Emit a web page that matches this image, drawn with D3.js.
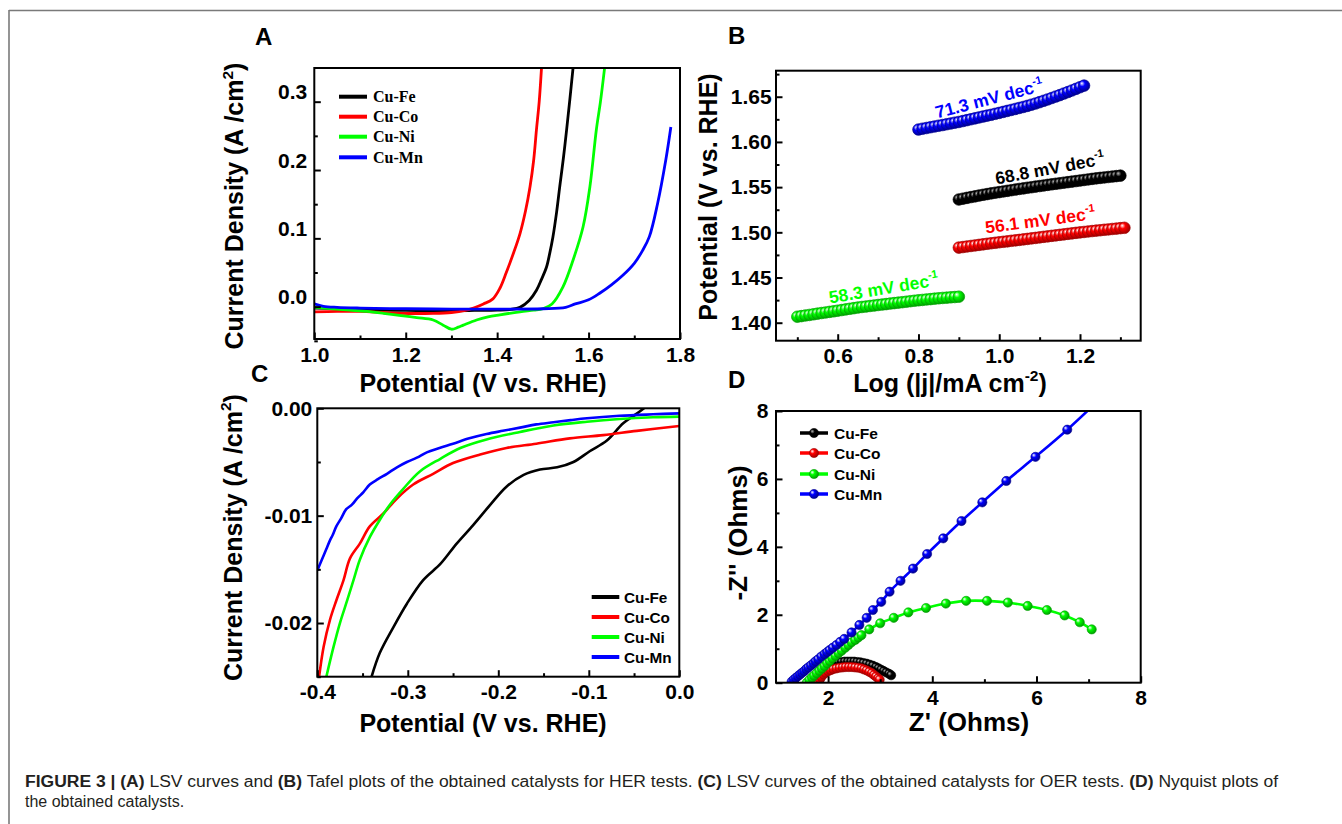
<!DOCTYPE html>
<html><head><meta charset="utf-8">
<script src="https://cdn.jsdelivr.net/npm/d3@7"></script>
<style>
body{margin:0;background:#fff;}
svg{display:block;}
</style></head><body>
<svg id="fig" width="1342" height="824"></svg>
<script>
// ---------------- DATA ----------------
const seriesNames = ["Cu-Fe","Cu-Co","Cu-Ni","Cu-Mn"];

// Panel A : LSV (V vs RHE, A/cm2)
const lsvFe = [[1.00,-0.002],[1.05,-0.003],[1.10,-0.004],[1.15,-0.005],[1.20,-0.0055],[1.25,-0.006],[1.30,-0.006],[1.35,-0.0055],[1.40,-0.005],[1.43,-0.004],[1.45,-0.001],[1.47,0.009],[1.486,0.024],[1.497,0.040],[1.508,0.058],[1.515,0.078],[1.522,0.102],[1.530,0.138],[1.537,0.176],[1.545,0.218],[1.552,0.259],[1.559,0.303],[1.566,0.349]];
const lsvCo = [[1.00,-0.0075],[1.05,-0.0070],[1.10,-0.0070],[1.15,-0.0085],[1.19,-0.0097],[1.26,-0.0097],[1.30,-0.0085],[1.33,-0.0055],[1.35,-0.0015],[1.37,0.004],[1.39,0.011],[1.406,0.027],[1.42,0.050],[1.435,0.077],[1.45,0.107],[1.462,0.140],[1.472,0.176],[1.480,0.215],[1.486,0.259],[1.492,0.300],[1.497,0.349]];
const lsvNi = [[1.00,-0.001],[1.04,-0.003],[1.078,-0.005],[1.115,-0.007],[1.151,-0.0097],[1.19,-0.013],[1.224,-0.016],[1.26,-0.0195],[1.282,-0.027],[1.300,-0.033],[1.315,-0.030],[1.326,-0.027],[1.355,-0.0195],[1.38,-0.015],[1.406,-0.012],[1.45,-0.0075],[1.48,-0.005],[1.50,-0.003],[1.52,0.004],[1.544,0.029],[1.566,0.068],[1.588,0.117],[1.603,0.176],[1.617,0.259],[1.626,0.300],[1.635,0.349]];
const lsvMn = [[1.00,0.004],[1.02,0.0005],[1.05,-0.001],[1.10,-0.002],[1.20,-0.003],[1.30,-0.0035],[1.40,-0.0035],[1.50,-0.003],[1.55,-0.001],[1.571,0.004],[1.60,0.010],[1.625,0.020],[1.65,0.032],[1.675,0.046],[1.70,0.0635],[1.718,0.082],[1.733,0.1025],[1.751,0.151],[1.769,0.215],[1.78,0.263]];

// Panel B : Tafel (log|j|, V)
const tafelFe = [[0.90,1.5363],[0.91,1.5372],[0.92,1.5381],[0.93,1.5390],[0.94,1.5398],[0.95,1.5407],[0.96,1.5415],[0.97,1.5423],[0.98,1.5431],[0.99,1.5438],[1.00,1.5445],[1.01,1.5452],[1.02,1.5459],[1.03,1.5466],[1.04,1.5473],[1.05,1.5480],[1.06,1.5486],[1.07,1.5493],[1.08,1.5499],[1.09,1.5506],[1.10,1.5512],[1.11,1.5518],[1.12,1.5525],[1.13,1.5531],[1.14,1.5537],[1.15,1.5543],[1.16,1.5549],[1.17,1.5555],[1.18,1.5561],[1.19,1.5567],[1.20,1.5573],[1.21,1.5579],[1.22,1.5585],[1.23,1.5591],[1.24,1.5597],[1.25,1.5602],[1.26,1.5607],[1.27,1.5612],[1.28,1.5617],[1.29,1.5622],[1.30,1.5627]];
const tafelCo = [[0.90,1.4831],[0.91,1.4837],[0.92,1.4843],[0.93,1.4849],[0.94,1.4855],[0.95,1.4861],[0.96,1.4867],[0.97,1.4873],[0.98,1.4879],[0.99,1.4884],[1.00,1.4890],[1.01,1.4895],[1.02,1.4900],[1.03,1.4906],[1.04,1.4911],[1.05,1.4916],[1.06,1.4922],[1.07,1.4927],[1.08,1.4933],[1.09,1.4938],[1.10,1.4944],[1.11,1.4950],[1.12,1.4955],[1.13,1.4961],[1.14,1.4966],[1.15,1.4972],[1.16,1.4977],[1.17,1.4983],[1.18,1.4988],[1.19,1.4994],[1.20,1.4999],[1.21,1.5004],[1.22,1.5009],[1.23,1.5014],[1.24,1.5019],[1.25,1.5023],[1.26,1.5028],[1.27,1.5032],[1.28,1.5037],[1.29,1.5041],[1.30,1.5046],[1.31,1.5050]];
const tafelNi = [[0.50,1.4066],[0.51,1.4073],[0.52,1.4080],[0.53,1.4086],[0.54,1.4093],[0.55,1.4100],[0.56,1.4107],[0.57,1.4113],[0.58,1.4120],[0.59,1.4126],[0.60,1.4133],[0.61,1.4140],[0.62,1.4147],[0.63,1.4154],[0.64,1.4161],[0.65,1.4168],[0.66,1.4174],[0.67,1.4179],[0.68,1.4185],[0.69,1.4190],[0.70,1.4196],[0.71,1.4201],[0.72,1.4206],[0.73,1.4212],[0.74,1.4217],[0.75,1.4222],[0.76,1.4227],[0.77,1.4232],[0.78,1.4238],[0.79,1.4243],[0.80,1.4248],[0.81,1.4252],[0.82,1.4257],[0.83,1.4261],[0.84,1.4266],[0.85,1.4270],[0.86,1.4274],[0.87,1.4277],[0.88,1.4281],[0.89,1.4284],[0.90,1.4288]];
const tafelMn = [[0.80,1.6137],[0.81,1.6146],[0.82,1.6154],[0.83,1.6163],[0.84,1.6171],[0.85,1.6179],[0.86,1.6187],[0.87,1.6196],[0.88,1.6204],[0.89,1.6213],[0.90,1.6221],[0.91,1.6231],[0.92,1.6241],[0.93,1.6251],[0.94,1.6261],[0.95,1.6271],[0.96,1.6281],[0.97,1.6291],[0.98,1.6300],[0.99,1.6311],[1.00,1.6321],[1.01,1.6332],[1.02,1.6343],[1.03,1.6354],[1.04,1.6365],[1.05,1.6376],[1.06,1.6387],[1.07,1.6399],[1.08,1.6412],[1.09,1.6425],[1.10,1.6440],[1.11,1.6455],[1.12,1.6470],[1.13,1.6486],[1.14,1.6502],[1.15,1.6518],[1.16,1.6535],[1.17,1.6552],[1.18,1.6569],[1.19,1.6587],[1.20,1.6605],[1.21,1.6623]];
const tafelLabels = ["68.8 mV dec","56.1 mV dec","58.3 mV dec","71.3 mV dec"];

// Panel C : LSV (V vs RHE, A/cm2)
const oerFe = [[-0.340,-0.0250],[-0.331,-0.0228],[-0.316,-0.0204],[-0.301,-0.0182],[-0.283,-0.0160],[-0.264,-0.0145],[-0.246,-0.0126],[-0.228,-0.0109],[-0.209,-0.0090],[-0.191,-0.0073],[-0.172,-0.0062],[-0.154,-0.0057],[-0.135,-0.0055],[-0.117,-0.0050],[-0.099,-0.0040],[-0.080,-0.0030],[-0.062,-0.0014],[-0.047,-0.0005],[-0.036,0.0002]];
const oerCo = [[-0.398,-0.0250],[-0.393,-0.0222],[-0.386,-0.0197],[-0.379,-0.0179],[-0.371,-0.0160],[-0.364,-0.0140],[-0.353,-0.0126],[-0.342,-0.0110],[-0.327,-0.0098],[-0.312,-0.0084],[-0.294,-0.0071],[-0.272,-0.0061],[-0.250,-0.0051],[-0.220,-0.0043],[-0.191,-0.0037],[-0.158,-0.0033],[-0.121,-0.0028],[-0.084,-0.0025],[-0.047,-0.0021],[0.0,-0.00165]];
const oerNi = [[-0.390,-0.0250],[-0.382,-0.0222],[-0.375,-0.0200],[-0.367,-0.0179],[-0.360,-0.0160],[-0.353,-0.0141],[-0.342,-0.0120],[-0.331,-0.0104],[-0.320,-0.0090],[-0.305,-0.0075],[-0.287,-0.0059],[-0.264,-0.0047],[-0.242,-0.0037],[-0.213,-0.0029],[-0.176,-0.0022],[-0.139,-0.0016],[-0.102,-0.00125],[-0.066,-0.0010],[-0.029,-0.00084],[0.0,-0.00078]];
const oerMn = [[-0.400,-0.0151],[-0.397,-0.0145],[-0.393,-0.0137],[-0.390,-0.0131],[-0.386,-0.0123],[-0.383,-0.0118],[-0.379,-0.0110],[-0.374,-0.0103],[-0.368,-0.0094],[-0.362,-0.0090],[-0.356,-0.0084],[-0.349,-0.0078],[-0.342,-0.0071],[-0.333,-0.0066],[-0.323,-0.0061],[-0.312,-0.0055],[-0.301,-0.0050],[-0.290,-0.0046],[-0.279,-0.0041],[-0.265,-0.0037],[-0.250,-0.0033],[-0.232,-0.0028],[-0.213,-0.0024],[-0.195,-0.0021],[-0.176,-0.0018],[-0.158,-0.0015],[-0.139,-0.0013],[-0.120,-0.0011],[-0.102,-0.00093],[-0.066,-0.0007],[-0.029,-0.00056],[0.0,-0.00047]];

// Panel D : Nyquist (Z', -Z'')
const nyqFe = [[1.83,0.05],[1.85,0.15],[1.88,0.25],[1.91,0.33],[1.95,0.40],[1.99,0.46],[2.04,0.51],[2.09,0.55],[2.14,0.58],[2.20,0.60],[2.26,0.61],[2.32,0.62],[2.38,0.62],[2.44,0.62],[2.50,0.62],[2.56,0.61],[2.62,0.60],[2.68,0.58],[2.74,0.56],[2.80,0.53],[2.86,0.50],[2.92,0.46],[2.97,0.42],[3.02,0.38],[3.07,0.34],[3.12,0.30],[3.17,0.26],[3.21,0.22]];
const nyqCo = [[1.81,0.02],[1.84,0.10],[1.87,0.17],[1.91,0.24],[1.95,0.29],[2.00,0.34],[2.05,0.37],[2.10,0.40],[2.16,0.42],[2.22,0.44],[2.28,0.45],[2.34,0.46],[2.40,0.46],[2.46,0.46],[2.52,0.45],[2.58,0.44],[2.64,0.42],[2.69,0.39],[2.74,0.36],[2.79,0.32],[2.84,0.28],[2.88,0.23],[2.92,0.18],[2.96,0.13],[2.99,0.09]];
const nyqNi = [[1.59,0.00],[1.64,0.08],[1.69,0.15],[1.73,0.21],[1.78,0.28],[1.83,0.35],[1.88,0.42],[1.93,0.49],[1.98,0.57],[2.03,0.64],[2.08,0.72],[2.14,0.79],[2.20,0.87],[2.26,0.94],[2.33,1.03],[2.39,1.11],[2.45,1.19],[2.52,1.26],[2.58,1.33],[2.64,1.40],[2.79,1.57],[3.00,1.75],[3.26,1.91],[3.54,2.07],[3.88,2.20],[4.26,2.33],[4.65,2.41],[5.05,2.41],[5.45,2.36],[5.83,2.26],[6.20,2.14],[6.54,1.98],[6.83,1.78],[7.06,1.57]];
const nyqMn = [[1.30,0.03],[1.34,0.09],[1.38,0.14],[1.42,0.19],[1.46,0.24],[1.50,0.29],[1.54,0.34],[1.58,0.40],[1.62,0.45],[1.67,0.51],[1.72,0.57],[1.76,0.63],[1.81,0.69],[1.87,0.77],[1.93,0.84],[1.98,0.90],[2.03,0.96],[2.09,1.03],[2.16,1.11],[2.23,1.20],[2.31,1.29],[2.45,1.48],[2.60,1.70],[2.74,1.91],[2.86,2.14],[3.02,2.38],[3.18,2.68],[3.39,3.00],[3.63,3.36],[3.90,3.79],[4.21,4.25],[4.56,4.76],[4.96,5.31],[5.42,5.94],[5.98,6.65],[6.59,7.45],[7.25,8.40]];

// Ticks
const aXMajor = [1.0,1.2,1.4,1.6,1.8], aXMinor = [1.1,1.3,1.5,1.7];
const aYMajor = [0.0,0.1,0.2,0.3], aYMinor = [-0.05,0.05,0.15,0.25,0.35];
const bXMajor = [0.6,0.8,1.0,1.2], bXMinor = [0.5,0.7,0.9,1.1,1.3];
const bYMajor = [1.40,1.45,1.50,1.55,1.60,1.65], bYMinor = [1.425,1.475,1.525,1.575,1.625,1.675];
const cXMajor = [-0.4,-0.3,-0.2,-0.1,0.0], cXMinor = [-0.35,-0.25,-0.15,-0.05];
const cYMajor = [-0.02,-0.01,0.0], cYMinor = [-0.025,-0.015,-0.005];
const dXMajor = [2,4,6,8], dXMinor = [3,5,7];
const dYMajor = [0,2,4,6,8], dYMinor = [1,3,5,7];

// ---------------- STYLE / LAYOUT ----------------
const colors = ["#000000","#ff0000","#00ff00","#0000ff"];
const darks  = ["#000000","#a00000","#00a000","#000090"];
const FONT = "'Liberation Sans', Arial, Helvetica, sans-serif";
const svg = d3.select("#fig");
const defs = svg.append("defs");

colors.forEach((c,i)=>{
  const g = defs.append("radialGradient").attr("id","ball"+i)
    .attr("cx","40%").attr("cy","40%").attr("r","60%").attr("fx","30%").attr("fy","30%");
  g.append("stop").attr("offset","0%").attr("stop-color", i===0 ? "#bbbbbb" : "#ffffff");
  g.append("stop").attr("offset","40%").attr("stop-color", c);
  g.append("stop").attr("offset","100%").attr("stop-color", darks[i]);
});

// frame lines
svg.append("line").attr("x1",9).attr("x2",1342).attr("y1",10.5).attr("y2",10.5).attr("stroke","#7a7a7a").attr("stroke-width",1.6);
svg.append("line").attr("x1",9).attr("x2",9).attr("y1",10).attr("y2",824).attr("stroke","#7a7a7a").attr("stroke-width",1.6);

let clipN = 0;
function panel(p){
  const x = d3.scaleLinear().domain(p.xd).range([p.x0,p.x1]);
  const y = d3.scaleLinear().domain(p.yd).range([p.y1,p.y0]);
  const id = "clip"+(clipN++);
  defs.append("clipPath").attr("id",id).append("rect")
    .attr("x",p.x0).attr("y",p.y0).attr("width",p.x1-p.x0).attr("height",p.y1-p.y0);
  const g = svg.append("g");
  const plot = g.append("g").attr("clip-path",`url(#${id})`);
  return {x,y,g,plot,p};
}

function axes(P, xMaj, xMin, yMaj, yMin, xf, yf, o){
  const {x,y,g,p} = P;
  const style = sel => {
    sel.select(".domain").remove();
    sel.selectAll("line").attr("stroke","#000").attr("stroke-width",2);
    sel.selectAll("text").attr("font-family",FONT).attr("font-size",21).attr("font-weight","bold").attr("fill","#000");
  };
  g.append("g").attr("transform",`translate(0,${p.y1})`)
    .call(d3.axisBottom(x).tickValues(xMin).tickSize(-3.5).tickFormat("")).call(style);
  g.append("g").attr("transform",`translate(0,${p.y1})`)
    .call(d3.axisBottom(x).tickValues(xMaj).tickSize(-6.5).tickPadding(o.xpad).tickFormat(xf)).call(style);
  g.append("g").attr("transform",`translate(${p.x0},0)`)
    .call(d3.axisLeft(y).tickValues(yMin).tickSize(-3.5).tickFormat("")).call(style);
  const ya = g.append("g").attr("transform",`translate(${p.x0},0)`)
    .call(d3.axisLeft(y).tickValues(yMaj).tickSize(-6.5).tickPadding(o.ypad).tickFormat(yf)).call(style);
  if (o.yshift) ya.selectAll("text").attr("y", o.yshift);
  g.append("rect").attr("x",p.x0).attr("y",p.y0).attr("width",p.x1-p.x0).attr("height",p.y1-p.y0)
    .attr("fill","none").attr("stroke","#000").attr("stroke-width",2);
}

function title(txt, x, y, size, rot, sup, tail){
  const t = svg.append("text").attr("font-family",FONT).attr("font-weight","bold").attr("font-size",size)
    .attr("text-anchor","middle").attr("fill","#000")
    .attr("transform",`translate(${x},${y})` + (rot?` rotate(${rot})`:""));
  t.append("tspan").text(txt);
  if (sup){
    t.append("tspan").attr("font-size",size*0.62).attr("dy",-size*0.42).text(sup);
    t.append("tspan").attr("dy",size*0.42).text(tail||"");
  }
  return t;
}
function letter(txt,x,y){
  svg.append("text").attr("x",x).attr("y",y).attr("font-family",FONT).attr("font-weight","bold")
    .attr("font-size",24).attr("fill","#000").text(txt);
}

const smooth = d3.curveCatmullRom.alpha(0.5);

// ---------------- PANEL A ----------------
const A = panel({x0:314.3,x1:680,y0:68,y1:339,xd:[1.0,1.8],yd:[-0.0473,0.3493]});
axes(A,aXMajor,aXMinor,aYMajor,aYMinor,d=>d.toFixed(1),d=>d.toFixed(1),{xpad:8,ypad:7,yshift:-9.5});
[lsvFe,lsvCo,lsvNi,lsvMn].forEach((s,i)=>{
  A.plot.append("path").datum(s).attr("fill","none").attr("stroke",colors[i]).attr("stroke-width",2.8)
    .attr("stroke-linejoin","round")
    .attr("d",d3.line().x(d=>A.x(d[0])).y(d=>A.y(d[1])).curve(smooth));
});
seriesNames.forEach((n,i)=>{
  const yy = [96.7,116.7,136.7,157.3][i];
  A.g.append("line").attr("x1",339).attr("x2",367).attr("y1",yy).attr("y2",yy).attr("stroke",colors[i]).attr("stroke-width",4);
  A.g.append("text").attr("x",373).attr("y",yy+5.5).attr("font-family","'Liberation Serif','Times New Roman',serif")
    .attr("font-weight","bold").attr("font-size",16).attr("fill","#000").text(n);
});
letter("A",255,45);
title("Potential (V vs. RHE)",483,392,25);
title("Current Density (A /cm",243,206,25,-90,"2",")");

// ---------------- PANEL B ----------------
const B = panel({x0:776,x1:1140.7,y0:70.7,y1:340.7,xd:[0.4472,1.3503],yd:[1.3801,1.6788]});
axes(B,bXMajor,bXMinor,bYMajor,bYMinor,d=>d.toFixed(1),d=>d.toFixed(2),{xpad:7,ypad:4.3});
[tafelFe,tafelCo,tafelNi,tafelMn].forEach((s,i)=>{
  B.plot.append("g").selectAll("circle").data(s).join("circle")
    .attr("cx",d=>B.x(d[0])).attr("cy",d=>B.y(d[1])).attr("r",5.8)
    .attr("fill",`url(#ball${i})`).attr("stroke",darks[i]).attr("stroke-width",0.7);
});
const tafelPos = [[996.5,184.5,-10.5],[986,233.5,-7.5],[830,303.5,-9.5],[937,118.5,-14.5]];
tafelLabels.forEach((lab,i)=>{
  const [tx,ty,rot] = tafelPos[i];
  const t = B.g.append("text").attr("transform",`translate(${tx},${ty}) rotate(${rot})`)
    .attr("font-family",FONT).attr("font-weight","bold").attr("font-size",17.5).attr("fill",colors[i]);
  t.append("tspan").text(lab);
  t.append("tspan").attr("font-size",11).attr("dy",-8).text("-1");
});
letter("B",728,44);
title("Potential (V vs. RHE)",716.5,197,25,-90);
title("Log (|j|/mA cm",950,391.5,25,0,"-2",")");

// ---------------- PANEL C ----------------
const C = panel({x0:317.3,x1:679.3,y0:408.3,y1:676.7,xd:[-0.4,0],yd:[-0.025,0]});
axes(C,cXMajor,cXMinor,cYMajor,cYMinor,d=>d.toFixed(1),d=>d.toFixed(2),{xpad:7,ypad:5});
[oerFe,oerCo,oerNi,oerMn].forEach((s,i)=>{
  C.plot.append("path").datum(s).attr("fill","none").attr("stroke",colors[i]).attr("stroke-width",2.6)
    .attr("stroke-linejoin","round")
    .attr("d",d3.line().x(d=>C.x(d[0])).y(d=>C.y(d[1])).curve(smooth));
});
seriesNames.forEach((n,i)=>{
  const yy = [597,617,637,657][i];
  C.g.append("line").attr("x1",591.7).attr("x2",619.3).attr("y1",yy).attr("y2",yy).attr("stroke",colors[i]).attr("stroke-width",4);
  C.g.append("text").attr("x",624).attr("y",yy+5.5).attr("font-family",FONT)
    .attr("font-weight","bold").attr("font-size",15.3).attr("fill","#000").text(n);
});
letter("C",251,382);
title("Potential (V vs. RHE)",483,731.5,25);
title("Current Density (A /cm",241.7,537.5,25,-90,"2",")");

// ---------------- PANEL D ----------------
const D = panel({x0:776,x1:1140.7,y0:411,y1:682.7,xd:[1,8],yd:[0,8]});
axes(D,dXMajor,dXMinor,dYMajor,dYMinor,d=>String(d),d=>String(d),{xpad:7.5,ypad:7.7});
[nyqFe,nyqCo,nyqNi,nyqMn].forEach((s,i)=>{
  D.plot.append("path").datum(s).attr("fill","none").attr("stroke",colors[i]).attr("stroke-width",2.6)
    .attr("d",d3.line().x(d=>D.x(d[0])).y(d=>D.y(d[1])).curve(smooth));
  D.plot.append("g").selectAll("circle").data(s).join("circle")
    .attr("cx",d=>D.x(d[0])).attr("cy",d=>D.y(d[1])).attr("r",4.6)
    .attr("fill",`url(#ball${i})`).attr("stroke",darks[i]).attr("stroke-width",0.6);
});
seriesNames.forEach((n,i)=>{
  const yy = [433,453,474,494][i];
  D.g.append("line").attr("x1",800).attr("x2",828).attr("y1",yy).attr("y2",yy).attr("stroke",colors[i]).attr("stroke-width",3.5);
  D.g.append("circle").attr("cx",814).attr("cy",yy).attr("r",4.6).attr("fill",`url(#ball${i})`).attr("stroke",darks[i]).attr("stroke-width",0.6);
  D.g.append("text").attr("x",834).attr("y",yy+5.5).attr("font-family",FONT)
    .attr("font-weight","bold").attr("font-size",15.5).attr("fill","#000").text(n);
});
letter("D",728,388);
title("Z' (Ohms)",969,731,26);
title("-Z'' (Ohms)",747.3,533,26,-90);

// ---------------- CAPTION ----------------
const capParts = [
  ["FIGURE 3 | ",true],["(A)",true],[" LSV curves and ",false],["(B)",true],
  [" Tafel plots of the obtained catalysts for HER tests. ",false],["(C)",true],
  [" LSV curves of the obtained catalysts for OER tests. ",false],["(D)",true],[" Nyquist plots of",false]
];
const cap1 = svg.append("text").attr("x",25).attr("y",786.5).attr("font-family",FONT).attr("font-size",16)
  .attr("fill","#231f20").attr("textLength",1253).attr("lengthAdjust","spacingAndGlyphs").attr("xml:space","preserve");
capParts.forEach(([t,b])=>cap1.append("tspan").attr("font-weight",b?"bold":"normal").text(t));
svg.append("text").attr("x",25).attr("y",806.5).attr("font-family",FONT).attr("font-size",16)
  .attr("fill","#231f20").text("the obtained catalysts.");
</script>
</body></html>
